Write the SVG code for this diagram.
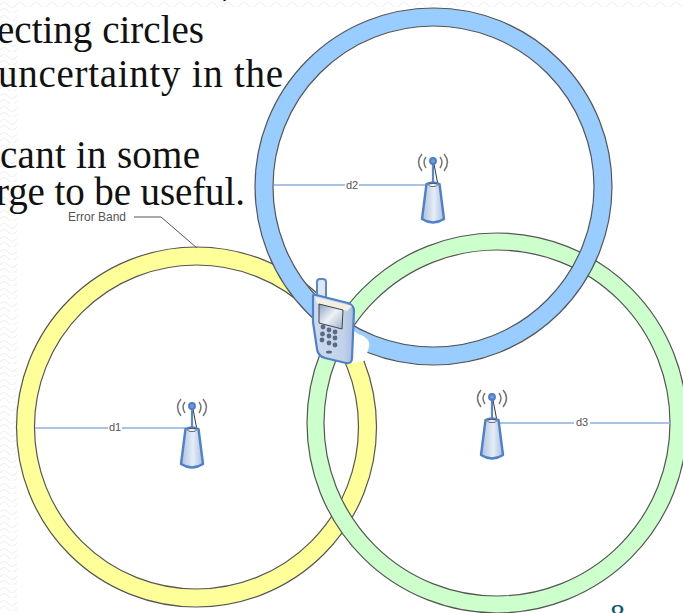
<svg xmlns="http://www.w3.org/2000/svg" width="683" height="613" viewBox="0 0 683 613">
<style>
.t{font-family:"Liberation Serif","DejaVu Serif",serif;font-size:39px;fill:#111}
.l{font-family:"Liberation Sans",Arial,sans-serif;font-size:11px;fill:#555}
.e{font-size:12px}
.ring{fill:none;stroke:#555;stroke-width:1.200}
.d{stroke:#8fb0dc;stroke-width:1.300;fill:none}
.wave{fill:none;stroke:#f0f0f0;stroke-width:1.200}
</style>
<defs>
<pattern id="zig" width="16" height="13" patternUnits="userSpaceOnUse"><path class="wave" d="M0 5 Q4 0 8 5 T16 5 M0 11 Q4 6 8 11 T16 11"/></pattern>
<linearGradient id="tower" x1="0" x2="1" y1="0" y2="0"><stop offset="0" stop-color="#a9c0e0"/><stop offset=".55" stop-color="#e6edf6"/><stop offset="1" stop-color="#a9c0e0"/></linearGradient>
<linearGradient id="phone" x1="0" x2="1" y1="0" y2="0"><stop offset="0" stop-color="#ccd9ee"/><stop offset=".75" stop-color="#c2d2ea"/><stop offset="1" stop-color="#a7bcdc"/></linearGradient>
<linearGradient id="scr" x1="0" x2="1" y1="0" y2="1"><stop offset="0" stop-color="#8ea2bd"/><stop offset=".5" stop-color="#eef2f8"/><stop offset="1" stop-color="#9fb1c9"/></linearGradient>
<g id="mast">
<path d="M-11 -30 Q-18 -22 -11 -13 M-7 -27 Q-11 -22 -7 -16 M7 -27 Q11 -22 7 -16 M11 -30 Q18 -22 11 -13" fill="none" stroke="#777" stroke-width="1.500"/>
<path d="M1 -20 L5 1" stroke="#333" stroke-width="1" fill="none"/>
<path d="M0 -20 L0 0" stroke="#5a88cc" stroke-width="2.200" fill="none"/>
<circle cx="0" cy="-23" r="3" fill="#6f9bd8" stroke="#4a7cc7" stroke-width="1.800"/>
<path d="M-6.500 0 Q0 -3 6.500 0 L11 35 Q0 42 -11 35 Z" fill="url(#tower)" stroke="#4f80ca" stroke-width="2.400" stroke-linejoin="round"/>
<ellipse cx="0" cy="1" rx="4.500" ry="1.500" fill="#fff" stroke="#222" stroke-width=".7"/>
</g>
</defs>
<rect width="683" height="613" fill="#fff"/>
<rect x="0" y="0" width="17" height="613" fill="url(#zig)"/>
<rect x="17" y="0" width="666" height="7" fill="url(#zig)"/>
<text class="t" x="222" y="-5">,</text>
<text class="t" x="-3" y="43" textLength="207" lengthAdjust="spacing">ecting circles</text>
<text class="t" x="-2" y="87" textLength="285" lengthAdjust="spacing">uncertainty in the</text>
<text class="t" x="0" y="168" textLength="200" lengthAdjust="spacing">cant in some</text>
<text class="t" x="-4" y="205" textLength="249" lengthAdjust="spacing">rge to be useful.</text>
<text x="594" y="632" font-family="Liberation Serif,serif" font-size="30" fill="#0b5a73">9</text>
<text x="610" y="624" font-family="Liberation Serif,serif" font-size="30" fill="#0b5a73">8</text>
<g id="yellow-circle"><circle cx="196.500" cy="427" r="171" fill="none" stroke="#ffff99" stroke-width="18"/><circle class="ring" cx="196.500" cy="427" r="180"/><circle class="ring" cx="196.500" cy="427" r="162"/></g>
<g id="green-circle"><circle cx="497" cy="423" r="181.500" fill="none" stroke="#ccffcc" stroke-width="17"/><circle class="ring" cx="497" cy="423" r="190"/><circle class="ring" cx="497" cy="423" r="173"/></g>
<g id="blue-circle"><circle cx="433.500" cy="186.500" r="169.500" fill="none" stroke="#99ccff" stroke-width="18"/><circle class="ring" cx="433.500" cy="186.500" r="178.500"/><circle class="ring" cx="433.500" cy="186.500" r="160.500"/></g>
<path d="M350 327 L358 334 Q371 338 369 347 Q367 355 364 361 L346 364 Z" fill="#fff"/>
<g id="connectors">
<path class="d" d="M35 428 H108 M122 428 H186"/>
<path class="d" d="M274 185 H345 M359 185 H427"/>
<path class="d" d="M498 423 H574 M590 423 H671"/>
<path d="M134 217 H161 L197 248" fill="none" stroke="#555" stroke-width="1"/>
</g>
<g id="label-d1"><text class="l" x="115" y="431" text-anchor="middle">d1</text></g>
<g id="label-d2"><text class="l" x="352" y="189" text-anchor="middle">d2</text></g>
<g id="label-d3"><text class="l" x="582" y="426" text-anchor="middle">d3</text></g>
<g id="label-error"><text class="l e" x="68" y="221">Error Band</text></g>
<g id="tower1" transform="translate(192 429)"><use href="#mast"/></g>
<g id="tower2" transform="translate(433 184)"><use href="#mast"/></g>
<g id="tower3" transform="translate(492 420)"><use href="#mast"/></g>
<g id="phone-node">
<rect x="317" y="279" width="9" height="22" rx="3" fill="#dde6f2" stroke="#5a88cc" stroke-width="2"/>
<path d="M313 296 Q313 294 316 295 L348 303 Q354 305 354 311 L352 358 Q352 364 346 363 L325 358 Q318 356 317 349 L313 322 Z" fill="url(#phone)" stroke="#4f80ca" stroke-width="2.200" stroke-linejoin="round"/>
<path d="M315 297 L352 306 L347 311 L317 303 Z" fill="#f3efe3"/>
<path d="M319 304 L343 310 L342 329 L319 323 Z" fill="url(#scr)" stroke="#444" stroke-width="1"/>
<g fill="#5a6980">
<circle cx="323" cy="327" r="2.400"/><circle cx="329" cy="330" r="2.400"/><circle cx="335" cy="332" r="2.400"/>
<circle cx="322.500" cy="334" r="2.400"/><circle cx="329" cy="336" r="2.400"/><circle cx="335" cy="338" r="2.400"/>
<circle cx="322" cy="340" r="2.400"/><circle cx="329" cy="343" r="2.400"/><circle cx="335" cy="345" r="2.400"/>
<ellipse cx="329" cy="352" rx="3" ry="1.500"/>
</g>
</g>
</svg>
